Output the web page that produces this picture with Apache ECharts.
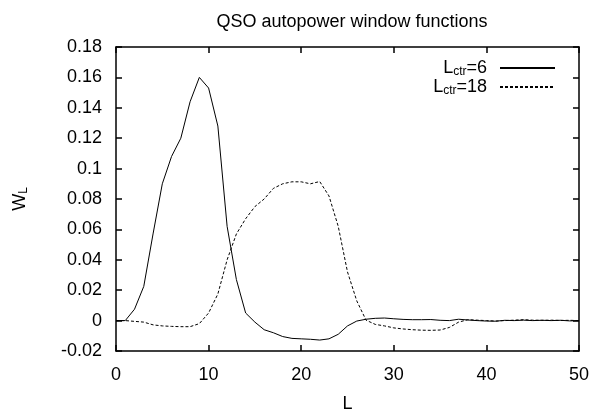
<!DOCTYPE html>
<html>
<head>
<meta charset="utf-8">
<script src="https://cdn.jsdelivr.net/npm/echarts@6/dist/echarts.min.js"></script>
<style>html,body{margin:0;padding:0;background:#fff}#c{width:595px;height:418px}</style>
</head>
<body>
<div id="c"></div>
<script>
const xTicks = [0, 10, 20, 30, 40, 50];
const yTicks = [-0.02, 0, 0.02, 0.04, 0.06, 0.08, 0.1, 0.12, 0.14, 0.16, 0.18];
const L = [0,1,2,3,4,5,6,7,8,9,10,11,12,13,14,15,16,17,18,19,20,21,22,23,24,25,26,27,28,29,30,31,32,33,34,35,36,37,38,39,40,41,42,43,44,45,46,47,48,49,50];
const W6 = [0,0,0.0075,0.0225,0.057,0.090,0.108,0.120,0.144,0.160,0.153,0.128,0.062,0.027,0.005,-0.001,-0.006,-0.008,-0.0105,-0.0117,-0.012,-0.0123,-0.0128,-0.012,-0.009,-0.0035,-0.0003,0.0009,0.0015,0.0017,0.0012,0.0008,0.0006,0.0006,0.0007,0.0002,0.0,0.0009,0.0004,0.0,-0.0003,-0.0004,0.0002,0.0,0.0003,0.0,0.0002,0.0,0.0002,-0.0002,0];
const W18 = [0,0,-0.0005,-0.001,-0.0028,-0.0035,-0.0038,-0.004,-0.004,-0.002,0.005,0.0175,0.040,0.057,0.067,0.075,0.080,0.087,0.090,0.0913,0.0913,0.090,0.0915,0.082,0.062,0.032,0.013,0.0003,-0.0025,-0.0035,-0.0048,-0.0055,-0.006,-0.0063,-0.0064,-0.0062,-0.0045,-0.001,0.0006,0.0003,0,-0.0003,0,0.0003,0.0006,0.0003,0.0002,0.0003,0.0001,0.0002,0];
const seriesNames = ['6', '18'];

const FONT = 'Liberation Sans';
const FS = 18;
const chart = echarts.init(document.getElementById('c'), null, {renderer: 'canvas'});
const pairs = arr => L.map((x, i) => [x, arr[i]]);
function mkAxis(pos, extra) {
  return Object.assign({
    type: 'value', position: pos,
    axisLine: {show: true, onZero: false, lineStyle: {color: '#000', width: 1.5}},
    axisTick: {show: true, inside: true, length: 6, lineStyle: {color: '#000', width: 1.5}},
    splitLine: {show: false}
  }, extra);
}
const xMin = xTicks[0], xMax = xTicks[xTicks.length - 1];
const yMin = yTicks[0], yMax = yTicks[yTicks.length - 1];
const subRich = {
  n: {fontFamily: FONT, fontSize: FS, lineHeight: 20, color: '#000'},
  s: {fontFamily: FONT, fontSize: 12, lineHeight: 12, color: '#000', padding: [8, 0, 0, 0]},
  e: {fontFamily: FONT, fontSize: FS, lineHeight: 20, color: '#000', padding: [0, 8, 0, 0]}
};
chart.setOption({
  animation: false,
  title: {
    text: 'QSO autopower window functions',
    left: 347, top: 8, textAlign: 'center',
    textStyle: {fontFamily: FONT, fontSize: FS, fontWeight: 'normal', color: '#000'}
  },
  grid: {left: 116, right: 16, top: 47, bottom: 64},
  legend: {
    orient: 'vertical', align: 'right', right: 34, top: 53,
    itemWidth: 55, itemHeight: 14, itemGap: -1,
    data: seriesNames.map(n => 'L' + n),
    itemStyle: {color: 'rgba(0,0,0,0)', borderWidth: 0, opacity: 0},
    formatter: n => '{n|L}{s|ctr}{e|=' + n.slice(1) + '}',
    textStyle: {fontFamily: FONT, color: '#000', rich: subRich}
  },
  xAxis: [
    mkAxis('bottom', {
      min: xMin, max: xMax, interval: 10,
      name: 'L', nameLocation: 'middle', nameGap: 44,
      nameTextStyle: {fontFamily: FONT, fontSize: FS, color: '#000'},
      axisLabel: {fontFamily: FONT, fontSize: FS, color: '#000', margin: 15}
    }),
    mkAxis('top', {min: xMin, max: xMax, interval: 10, axisLabel: {show: false}})
  ],
  yAxis: [
    mkAxis('left', {
      min: yMin, max: yMax, interval: 0.02,
      name: '{n|W}{s|L}', nameLocation: 'middle', nameGap: 86, nameRotate: 90,
      nameTextStyle: {fontFamily: FONT, color: '#000', rich: subRich},
      axisLabel: {fontFamily: FONT, fontSize: FS, color: '#000', margin: 14,
        formatter: v => String(Math.round(v * 100) / 100)}
    }),
    mkAxis('right', {min: yMin, max: yMax, interval: 0.02, axisLabel: {show: false}})
  ],
  series: [
    {name: 'L6', type: 'line', data: pairs(W6), symbol: 'none', xAxisIndex: 0, yAxisIndex: 0,
     lineStyle: {color: '#000', width: 1, type: 'solid'}, itemStyle: {color: '#000'}},
    {name: 'L18', type: 'line', data: pairs(W18), symbol: 'none', xAxisIndex: 0, yAxisIndex: 0,
     lineStyle: {color: '#000', width: 1, type: [3, 2]}, itemStyle: {color: '#000'}}
  ]
});
</script>
</body>
</html>
